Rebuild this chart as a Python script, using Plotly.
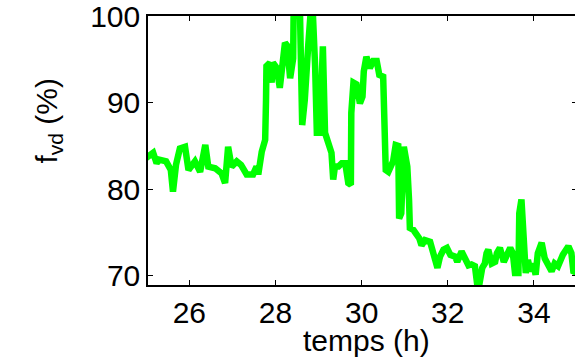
import plotly.graph_objects as go

temps_h = [25.0, 25.16, 25.24, 25.3, 25.46, 25.57, 25.62, 25.69, 25.78, 25.9, 25.98,
           26.13, 26.25, 26.37, 26.44, 26.6, 26.75, 26.83, 26.9, 26.98, 27.1, 27.2,
           27.33, 27.48, 27.56, 27.6, 27.68, 27.76, 27.78, 27.79, 27.87, 27.91, 27.94,
           28.03, 28.1, 28.17, 28.22, 28.27, 28.34, 28.41, 28.42, 28.57, 28.61, 28.62,
           28.68, 28.72, 28.76, 28.81, 28.87, 28.92, 28.96, 29.03, 29.07, 29.1, 29.15,
           29.23, 29.3, 29.34, 29.38, 29.46, 29.54, 29.62, 29.69, 29.75, 29.76, 29.81,
           29.88, 29.96, 30.02, 30.05, 30.11, 30.19, 30.27, 30.35, 30.41, 30.5, 30.51,
           30.56, 30.62, 30.66, 30.73, 30.79, 30.85, 30.87, 30.92, 30.98, 31.06, 31.1,
           31.12, 31.2, 31.26, 31.34, 31.39, 31.47, 31.59, 31.67, 31.76, 31.82, 31.9,
           31.98, 32.06, 32.17, 32.22, 32.32, 32.4, 32.48, 32.55, 32.63, 32.68, 32.74,
           32.8, 32.86, 32.9, 32.94, 33.02, 33.1, 33.14, 33.21, 33.3, 33.37, 33.45,
           33.51, 33.56, 33.64, 33.66, 33.71, 33.76, 33.81, 33.86, 33.92, 33.98, 34.04,
           34.09, 34.18, 34.25, 34.33, 34.41, 34.48, 34.56, 34.67, 34.8, 34.87, 34.92,
           35.0]
fvd_pct = [83.6, 84.2, 83.0, 83.4, 83.2, 82.2, 79.7, 82.8, 84.7, 84.9, 82.2,
           83.2, 82.0, 85.1, 82.6, 82.4, 81.8, 80.7, 84.9, 82.6, 83.2, 82.8,
           81.7, 81.7, 82.6, 81.7, 84.3, 85.7, 90.3, 94.2, 94.6, 92.3, 94.6,
           94.0, 91.7, 94.4, 96.9, 96.6, 92.8, 95.1, 100.0, 100.0, 90.7, 87.4,
           90.3, 96.1, 96.6, 100.0, 100.0, 94.2, 86.5, 86.5, 96.5, 96.5, 86.5,
           85.3, 84.2, 81.1, 82.6, 82.6, 83.0, 83.0, 80.7, 80.5, 88.8, 92.3,
           92.1, 89.9, 90.7, 93.6, 95.3, 94.0, 94.8, 94.8, 93.2, 93.0, 88.4,
           82.2, 82.0, 82.6, 83.2, 85.1, 85.0, 76.6, 77.2, 84.9, 82.6, 78.8,
           75.5, 75.3, 74.9, 74.3, 73.5, 74.1, 73.9, 72.2, 70.9, 72.2, 73.0,
           73.2, 72.4, 72.2, 71.6, 72.8, 71.8, 71.2, 71.3, 71.1, 69.1, 69.2,
           70.9, 71.4, 72.6, 73.0, 71.4, 71.6, 72.6, 73.2, 71.6, 72.6, 73.2,
           72.6, 70.3, 70.3, 77.2, 78.8, 74.9, 70.3, 71.8, 70.5, 71.4, 70.1,
           72.6, 73.8, 72.0, 71.1, 70.5, 71.4, 71.1, 72.4, 73.4, 72.6, 70.3,
           70.6]

x_ticks = [26, 28, 30, 32, 34]
y_ticks = [70, 80, 90, 100]
x_title = "temps (h)"
y_title = "f<sub>vd</sub> (%)"

font = dict(family="Liberation Sans, Arial, sans-serif", size=30, color="black")

fig = go.Figure()
fig.add_trace(go.Scatter(x=temps_h, y=fvd_pct, mode="lines",
                         line=dict(color="rgb(0,255,0)", width=6.5),
                         showlegend=False))

axis_common = dict(showgrid=False, zeroline=False, showline=True, linecolor="black",
                   linewidth=1.5, mirror="ticks", ticks="inside", ticklen=5,
                   tickcolor="black", tickwidth=1, automargin=False,
                   ticklabeloverflow="allow", tickfont=font)

fig.update_layout(
    width=580, height=364,
    margin=dict(l=148, r=3, t=16, b=79),
    paper_bgcolor="white", plot_bgcolor="white",
    font=font,
    xaxis=dict(range=[25.04, 35.0], tickvals=x_ticks,
               ticktext=[str(v) for v in x_ticks], **axis_common),
    yaxis=dict(range=[68.92, 100.001], tickvals=y_ticks,
               ticktext=[str(v) for v in y_ticks], **axis_common),
    annotations=[
        dict(text=x_title, xref="paper", yref="paper", x=0.5, y=0,
             xanchor="center", yanchor="top", xshift=4, yshift=-37,
             showarrow=False, font=font),
        dict(text=y_title, xref="paper", yref="paper", x=0, y=0.5,
             xanchor="center", yanchor="middle", xshift=-100, yshift=30,
             textangle=-90, showarrow=False, font=font),
    ],
)

fig.write_html(
    "out.html",
    config={"displayModeBar": False},
    post_script=("document.body.style.margin='0';"
                 "document.body.style.overflow='hidden';"
                 "document.documentElement.style.overflow='hidden';"),
)
